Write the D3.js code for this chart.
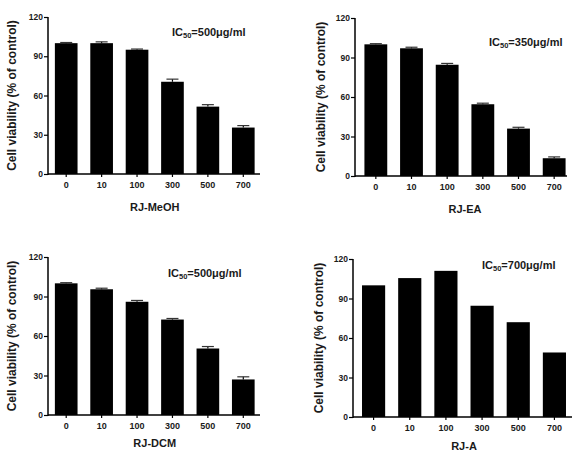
<!DOCTYPE html>
<html>
<head>
<meta charset="utf-8">
<script src="https://cdn.jsdelivr.net/npm/d3@7"></script>
<style>
html,body{margin:0;padding:0;background:#fff;}
svg{display:block;}
text{font-family:"Liberation Sans",Arial,sans-serif;font-weight:bold;fill:#1a1a1a;}
</style>
</head>
<body>
<svg id="chart" width="575" height="454"></svg>
<script>
// ---- data ----
const concentrations = ["0", "10", "100", "300", "500", "700"];
const yTicks = [0, 30, 60, 90, 120];
const extractNames = ["RJ-MeOH", "RJ-EA", "RJ-DCM", "RJ-A"];
const ic50Values = ["500", "350", "500", "700"];
const meohValues = [100, 100, 95, 70.5, 51.5, 35.5];
const meohErrors = [0.5, 1, 0.5, 2, 1.5, 1.5];
const eaValues = [100, 97, 84.5, 54.5, 36, 13.5];
const eaErrors = [0.5, 0.8, 1, 0.8, 1, 1];
const dcmValues = [100, 95.5, 86, 72.5, 50.5, 27];
const dcmErrors = [0.5, 0.8, 1, 0.8, 1.5, 2];
const aValues = [100, 105.5, 111, 84.5, 72, 49];
const aErrors = [0, 0, 0, 0, 0, 0];

const seriesValues = [meohValues, eaValues, dcmValues, aValues];
const seriesErrors = [meohErrors, eaErrors, dcmErrors, aErrors];

// ---- layout (pixel positions of each panel) ----
const layout = [
  {ax: 48,  top: 17,  zero: 174, x0: 48.5, x1: 261, axEnd: 260, titleX: 13, labelY: 211, icX: 172, icY: 36},
  {ax: 355, top: 18,  zero: 176, x0: 358,  x1: 572, axEnd: 567, titleX: 322, labelY: 213, icX: 489, icY: 46},
  {ax: 48,  top: 257, zero: 415, x0: 48.5, x1: 261, axEnd: 260, titleX: 13, labelY: 447, icX: 168, icY: 277},
  {ax: 353, top: 259, zero: 417, x0: 355.5,x1: 572.5, axEnd: 572, titleX: 320, labelY: 450, icX: 482, icY: 269}
];

const svg = d3.select("#chart");

layout.forEach((L, i) => {
  const vals = seriesValues[i];
  const errs = seriesErrors[i];
  const g = svg.append("g");

  const x = d3.scaleBand().domain(concentrations).range([L.x0, L.x1])
    .paddingInner(0.36).paddingOuter(0.18);
  const y = d3.scaleLinear().domain([0, 120]).range([L.zero, L.top]);

  // bars
  g.selectAll("rect.bar").data(vals).join("rect")
    .attr("class", "bar")
    .attr("x", (d, j) => x(concentrations[j]))
    .attr("width", x.bandwidth())
    .attr("y", d => y(d))
    .attr("height", d => y(0) - y(d))
    .attr("fill", "#000");

  // error bars (upper)
  const eb = g.selectAll("g.err").data(vals.map((v, j) => ({v, e: errs[j], c: concentrations[j]})).filter(d => d.e > 0))
    .join("g").attr("class", "err");
  eb.append("line")
    .attr("x1", d => x(d.c) + x.bandwidth() / 2).attr("x2", d => x(d.c) + x.bandwidth() / 2)
    .attr("y1", d => y(d.v)).attr("y2", d => y(d.v + d.e))
    .attr("stroke", "#000").attr("stroke-width", 1.2);
  eb.append("line")
    .attr("x1", d => x(d.c) + x.bandwidth() / 2 - 6).attr("x2", d => x(d.c) + x.bandwidth() / 2 + 6)
    .attr("y1", d => y(d.v + d.e)).attr("y2", d => y(d.v + d.e))
    .attr("stroke", "#333").attr("stroke-width", 1.2);

  // y axis
  const yAxis = d3.axisLeft(y).tickValues(yTicks).tickSize(4).tickPadding(1);
  const ya = g.append("g").attr("transform", `translate(${L.ax},0)`).call(yAxis);
  ya.select(".domain").attr("d", `M0,${L.top}V${L.zero + 1}`).attr("stroke", "#000").attr("stroke-width", 1.5);
  ya.selectAll(".tick line").attr("stroke", "#000").attr("stroke-width", 1.2);
  ya.selectAll(".tick text").style("font-size", "8.5px").style("font-family", "'Liberation Sans',Arial,sans-serif").style("font-weight", "bold").attr("fill", "#222");

  // x axis
  const xAxis = d3.axisBottom(x).tickSize(3).tickPadding(5);
  const xa = g.append("g").attr("transform", `translate(0,${L.zero})`).call(xAxis);
  xa.select(".domain").attr("d", `M${L.ax},0H${L.axEnd}`).attr("stroke", "#000").attr("stroke-width", 1.5);
  xa.selectAll(".tick line").attr("stroke", "#000").attr("stroke-width", 1.2);
  xa.selectAll(".tick text").style("font-size", "9px").style("font-family", "'Liberation Sans',Arial,sans-serif").style("font-weight", "bold").attr("fill", "#222");

  // axis titles
  g.append("text")
    .attr("transform", `translate(${L.titleX},${(L.top + L.zero) / 2}) rotate(-90)`)
    .attr("text-anchor", "middle").attr("dominant-baseline", "middle")
    .style("font-size", "12px")
    .text("Cell viability (% of control)");

  g.append("text")
    .attr("x", x("0") + (x("700") + x.bandwidth() - x("0")) / 2)
    .attr("y", L.labelY)
    .attr("text-anchor", "middle")
    .style("font-size", "11px")
    .text(extractNames[i]);

  // IC50 label
  const t = g.append("text").attr("x", L.icX).attr("y", L.icY).style("font-size", "11px");
  t.append("tspan").text("IC");
  t.append("tspan").attr("dy", 2).style("font-size", "7.5px").text("50");
  t.append("tspan").attr("dy", -2).text("=" + ic50Values[i] + "\u03bcg/ml");
});
</script>
</body>
</html>
